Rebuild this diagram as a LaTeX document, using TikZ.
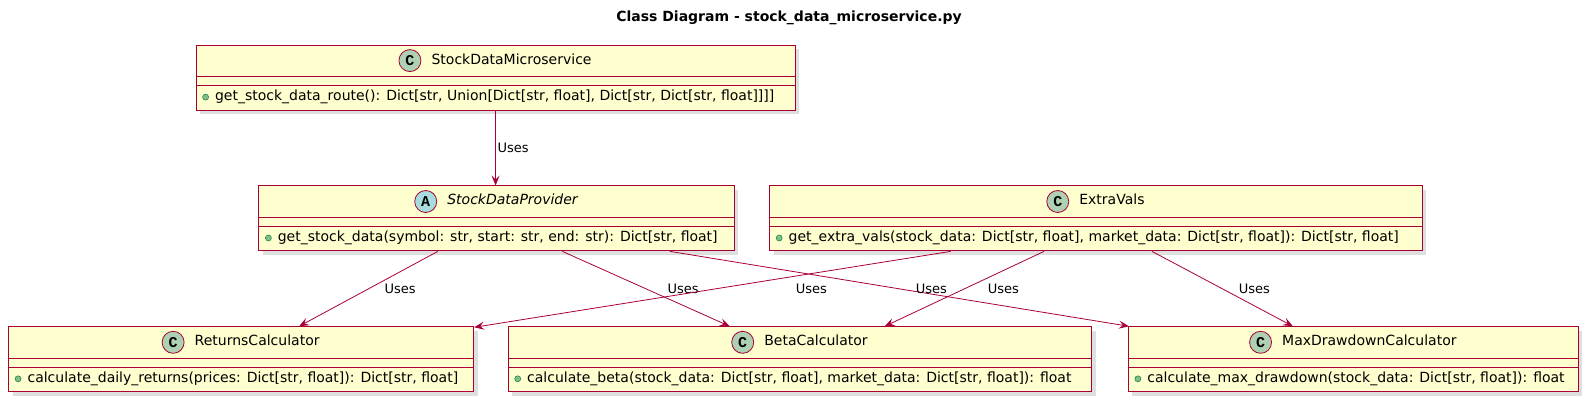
\documentclass[tikz,border=0pt]{standalone}
\usepackage{fontspec}
\setmainfont{DejaVu Sans}
\newfontfamily\letterfont{Liberation Mono}
\usetikzlibrary{positioning, shadows, arrows.meta}

\definecolor{umlred}{HTML}{A80036}
\definecolor{umlfill}{HTML}{FEFECE}
\definecolor{classcirc}{HTML}{ADD1B2}
\definecolor{abstcirc}{HTML}{A9DCDF}
\definecolor{pubfill}{HTML}{84BE84}
\definecolor{pubdraw}{HTML}{038048}

\tikzset{
  classbox/.style={draw=umlred, fill=umlfill, line width=0.9pt, minimum height=65pt, inner sep=0pt,
    drop shadow={shadow xshift=4pt, shadow yshift=-4pt, opacity=0.25}},
  sepline/.style={draw=umlred, line width=0.9pt},
  classname/.style={font=\fontsize{14}{16}\selectfont, inner sep=0pt, text height=10pt, text depth=3pt},
  letter/.style={circle, draw=umlred, line width=0.8pt, minimum size=22pt, inner sep=0pt,
    font=\fontsize{15}{15}\letterfont\bfseries},
  member/.style={font=\fontsize{14}{16}\selectfont, inner sep=0pt, text height=10pt, text depth=3pt},
  pubdot/.style={circle, fill=pubfill, draw=pubdraw, line width=0.5pt, minimum size=6pt, inner sep=0pt},
  uses/.style={draw=umlred, line width=0.8pt, -{Stealth[length=10pt, width=8pt, inset=4pt]}},
  lbl/.style={font=\fontsize{13}{15}\selectfont, inner sep=0pt},
}

% name, left x, top y, width, circle colour, letter, class name, member
\newcommand{\umlclass}[8]{%
  \node[classbox, minimum width=#4pt, anchor=north west] (#1) at (#2,#3) {};
  \draw[sepline] ([yshift=-32pt]#1.north west) -- ([yshift=-32pt]#1.north east);
  \draw[sepline] ([yshift=-41pt]#1.north west) -- ([yshift=-41pt]#1.north east);
  \node[classname] (#1-name) at ([xshift=16pt, yshift=-16pt]#1.north) {#7};
  \node[letter, fill=#5, left=10pt of #1-name] (#1-circ) {#6};
  \node[pubdot] (#1-dot) at ([xshift=10pt, yshift=-52.5pt]#1.north west) {};
  \node[member, right=6pt of #1-dot] (#1-meth) {#8};
}

\begin{document}
\begin{tikzpicture}[x=1pt, y=-1pt]
\useasboundingbox (0,0) rectangle (1589,403);

\node[font=\fontsize{14}{16}\selectfont\bfseries] (title) at (789,18) {Class Diagram - stock\_data\_microservice.py};

% classes
\umlclass{sdm}{195.6}{44.6}{599}{classcirc}{C}{StockDataMicroservice}{get\_stock\_data\_route(): Dict[str, Union[Dict[str, float], Dict[str, Dict[str, float]]]]}
\umlclass{sdp}{258.4}{185.5}{475.3}{abstcirc}{A}{\itshape StockDataProvider}{get\_stock\_data(symbol: str, start: str, end: str): Dict[str, float]}
\umlclass{ev}{769.2}{185.5}{652.6}{classcirc}{C}{ExtraVals}{get\_extra\_vals(stock\_data: Dict[str, float], market\_data: Dict[str, float]): Dict[str, float]}
\umlclass{rc}{8.1}{326.3}{465.2}{classcirc}{C}{ReturnsCalculator}{calculate\_daily\_returns(prices: Dict[str, float]): Dict[str, float]}
\umlclass{bc}{507.7}{326.3}{583.7}{classcirc}{C}{BetaCalculator}{calculate\_beta(stock\_data: Dict[str, float], market\_data: Dict[str, float]): float}
\umlclass{mdd}{1127.9}{326.3}{450}{classcirc}{C}{MaxDrawdownCalculator}{calculate\_max\_drawdown(stock\_data: Dict[str, float]): float}

% dependencies
\draw[uses] (sdm.south) -- (sdm.south |- sdp.north) node[lbl, midway, xshift=17.5pt] {Uses};
\draw[uses] ([xshift=179.4pt]sdp.south west) -- ([xshift=291pt]rc.north west) node[lbl, midway, xshift=31.6pt] {Uses};
\draw[uses] ([xshift=304pt]sdp.south west) -- ([xshift=222pt]bc.north west) node[lbl, midway, xshift=37pt] {Uses};
\draw[uses] ([xshift=411.6pt]sdp.south west) -- ([xshift=1pt]mdd.north west) node[lbl, midway, xshift=32pt] {Uses};
\draw[uses] ([xshift=181.4pt]ev.south west) -- ([yshift=-1pt]rc.north east) node[lbl, midway, xshift=99pt] {Uses};
\draw[uses] ([xshift=274.8pt]ev.south west) -- ([xshift=377pt]bc.north west) node[lbl, midway, xshift=39pt] {Uses};
\draw[uses] ([xshift=382.8pt]ev.south west) -- ([xshift=165pt]mdd.north west) node[lbl, midway, xshift=32pt] {Uses};
\end{tikzpicture}
\end{document}
